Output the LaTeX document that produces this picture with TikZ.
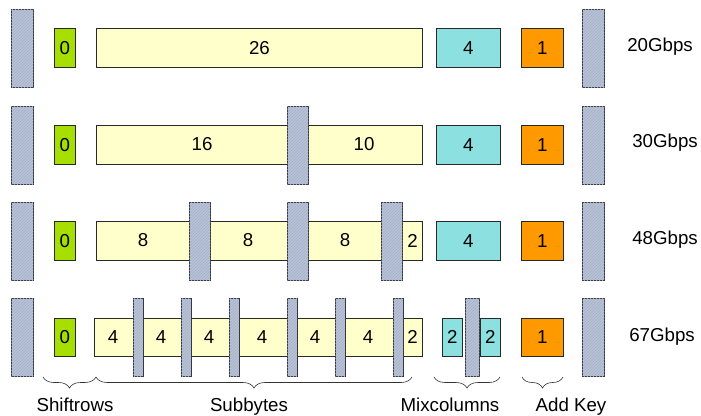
\documentclass[tikz,border=0pt]{standalone}
\usepackage{fontspec}
\setmainfont{Liberation Sans}
\usetikzlibrary{patterns,decorations.pathreplacing}
\definecolor{regfill}{RGB}{184,194,214}
\definecolor{reghatch}{RGB}{166,178,200}
\definecolor{regline}{RGB}{55,55,65}
\definecolor{shiftgreen}{RGB}{166,222,0}
\definecolor{subyellow}{RGB}{255,255,204}
\definecolor{mixcyan}{RGB}{140,224,224}
\definecolor{keyorange}{RGB}{255,153,0}
\definecolor{boxline}{RGB}{40,40,40}
\begin{document}
\begin{tikzpicture}[x=1pt,y=-1pt,
  every node/.style={font=\fontsize{18.7}{22}\selectfont, inner sep=0pt},
  stage/.style={draw=boxline, line width=0.8pt, anchor=north west},
  reg/.style={draw=regline, line width=0.8pt, fill=regfill, anchor=north west,
    postaction={pattern=north east lines, pattern color=reghatch}},
  rate/.style={anchor=center},
  grp/.style={decorate, decoration={brace, mirror, amplitude=11pt}, draw=black!80, line width=0.6pt},
  grplabel/.style={anchor=base}]
\useasboundingbox (0,0) rectangle (701,415);

% ---- 20 Gbps: one pipeline stage ----
\node[reg, minimum width=22pt, minimum height=78pt] (r1a) at (11,9) {};
\node[stage, fill=shiftgreen, minimum width=21pt, minimum height=39pt] (s1) at (54,28) {0};
\node[stage, fill=subyellow, minimum width=326pt, minimum height=39pt] (b1) at (96,28) {26};
\node[stage, fill=mixcyan, minimum width=64pt, minimum height=39pt] (m1) at (436,28) {4};
\node[stage, fill=keyorange, minimum width=42pt, minimum height=39pt] (k1) at (521,28) {1};
\node[reg, minimum width=22pt, minimum height=78pt] (r1b) at (582,9) {};
\node[rate] (t1) at (660,47) {20Gbps};

% ---- 30 Gbps: two stages ----
\node[reg, minimum width=22pt, minimum height=78pt] (r2a) at (11,106) {};
\node[stage, fill=shiftgreen, minimum width=21pt, minimum height=39pt] (s2) at (54,125) {0};
\node[stage, fill=subyellow, minimum width=326pt, minimum height=39pt] (b2) at (96,125) {};
\node (b2x) at (202,144.5) {16};
\node (b2y) at (364,144.5) {10};
\node[reg, minimum width=21pt, minimum height=78pt] (r2m) at (287,106) {};
\node[stage, fill=mixcyan, minimum width=64pt, minimum height=39pt] (m2) at (436,125) {4};
\node[stage, fill=keyorange, minimum width=42pt, minimum height=39pt] (k2) at (521,125) {1};
\node[reg, minimum width=22pt, minimum height=78pt] (r2b) at (582,106) {};
\node[rate] (t2) at (665,143) {30Gbps};

% ---- 48 Gbps: four stages ----
\node[reg, minimum width=22pt, minimum height=78pt] (r3a) at (11,202) {};
\node[stage, fill=shiftgreen, minimum width=21pt, minimum height=39pt] (s3) at (54,221) {0};
\node[stage, fill=subyellow, minimum width=326pt, minimum height=39pt] (b3) at (96,221) {};
\node (b3a) at (143,240.5) {8};
\node (b3b) at (248,240.5) {8};
\node (b3c) at (345,240.5) {8};
\node (b3d) at (412.5,240.5) {2};
\node[reg, minimum width=21pt, minimum height=78pt] (r3m1) at (189,202) {};
\node[reg, minimum width=21pt, minimum height=78pt] (r3m2) at (287,202) {};
\node[reg, minimum width=21pt, minimum height=78pt] (r3m3) at (381,202) {};
\node[stage, fill=mixcyan, minimum width=64pt, minimum height=39pt] (m3) at (436,221) {4};
\node[stage, fill=keyorange, minimum width=42pt, minimum height=39pt] (k3) at (521,221) {1};
\node[reg, minimum width=22pt, minimum height=78pt] (r3b) at (582,202) {};
\node[rate] (t3) at (665,240) {48Gbps};

% ---- 67 Gbps: eight stages ----
\node[reg, minimum width=22pt, minimum height=78pt] (r4a) at (11,298) {};
\node[stage, fill=shiftgreen, minimum width=21pt, minimum height=38pt] (s4) at (54,318) {0};
\node[stage, fill=subyellow, minimum width=328pt, minimum height=38pt] (b4) at (94,318) {};
\node (b4a) at (113,337) {4};
\node (b4b) at (161,337) {4};
\node (b4c) at (209,337) {4};
\node (b4d) at (262,337) {4};
\node (b4e) at (315,337) {4};
\node (b4f) at (368,337) {4};
\node (b4g) at (412.5,337) {2};
\foreach \x/\n in {133/1,181/2,229/3,287/4,335/5,393/6}
  \node[reg, minimum width=9.5pt, minimum height=78pt] (r4m\n) at (\x,298) {};
\node[stage, fill=mixcyan, minimum width=20pt, minimum height=38pt] (m4a) at (442,318) {2};
\node[stage, fill=mixcyan, minimum width=20pt, minimum height=38pt] (m4b) at (480,318) {2};
\node[reg, minimum width=14pt, minimum height=78pt] (r4m7) at (465,298) {};
\node[stage, fill=keyorange, minimum width=42pt, minimum height=38pt] (k4) at (521,318) {1};
\node[reg, minimum width=22pt, minimum height=78pt] (r4b) at (582,298) {};
\node[rate] (t4) at (662,337) {67Gbps};

% ---- operation groups ----
\coordinate (g1a) at (43,377);  \coordinate (g1b) at (96,377);
\coordinate (g2a) at (96,377);  \coordinate (g2b) at (412,377);
\coordinate (g3a) at (434,377); \coordinate (g3b) at (500,377);
\coordinate (g4a) at (522,377); \coordinate (g4b) at (563,377);
\draw[grp] (g1a) -- (g1b);
\draw[grp] (g2a) -- (g2b);
\draw[grp] (g3a) -- (g3b);
\draw[grp] (g4a) -- (g4b);
\node[grplabel] (l1) at (75,411.5) {Shiftrows};
\node[grplabel] (l2) at (249,411.5) {Subbytes};
\node[grplabel] (l3) at (450,411.5) {Mixcolumns};
\node[grplabel] (l4) at (571,411.5) {Add Key};
\end{tikzpicture}
\end{document}
